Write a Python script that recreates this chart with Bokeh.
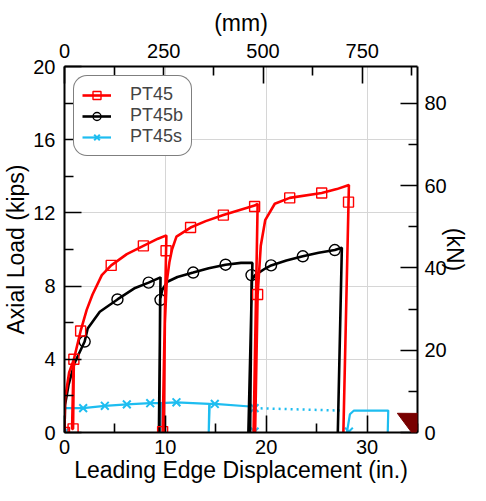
import math
from bokeh.plotting import figure
from bokeh.models import (LinearAxis, Range1d, FixedTicker, Legend, LegendItem,
                          PolyAnnotation)
from bokeh.embed import file_html
from bokeh.resources import INLINE

# ---------------- data (inches, kips) ----------------
pt45_x = [0, 0.06, 0.46, 0.9, 0.75, 0.85, 0.93, 1.6, 2.2, 2.78, 3.7, 4.63, 6.18, 7.82, 9.27, 10.1,
          9.73, 9.85, 9.95, 10.13, 10.4, 10.66, 11.1, 12.5, 14.0, 15.75, 17.3, 18.85, 19.15,
          18.75, 18.9, 19.15, 19.46, 19.9, 20.85, 22.33, 25.5, 27.0, 28.2, 27.65]
pt45_y = [0, 1.86, 3.28, 3.95, 0.2, 0.2, 4.0, 5.55, 6.7, 7.54, 8.6, 9.13, 9.75, 10.2, 10.59, 10.77,
          0.0, 0.0, 5.94, 8.2, 9.3, 10.0, 10.7, 11.2, 11.55, 11.88, 12.15, 12.4, 12.5,
          0.0, 0.0, 7.54, 10.2, 11.6, 12.5, 12.82, 13.09, 13.3, 13.53, 0.0]
pt45_mx = [0, 0.85, 0.93, 1.6, 4.63, 7.82, 10.07, 9.73, 12.5, 15.75, 18.85, 19.15, 22.33, 25.5, 28.16]
pt45_my = [0, 0.2, 4.0, 5.55, 9.13, 10.2, 9.93, 0.05, 11.2, 11.88, 12.35, 7.54, 12.82, 13.09, 12.59]

pt45b_x = [0, 0.05, 0.4, 1.0, 2.0, 2.3, 3.5, 5.25, 7.0, 8.34, 9.52, 9.36,
           9.4, 9.48, 9.7, 10.2, 11.2, 12.76, 14.3, 15.97, 17.5, 18.63, 18.23,
           18.4, 18.55, 18.9, 19.9, 20.48, 22.0, 23.63, 25.2, 26.8, 27.5, 27.1]
pt45b_y = [0, 1.5, 2.6, 3.8, 4.97, 5.68, 6.6, 7.27, 7.9, 8.19, 8.48, 0.0,
           0.0, 7.27, 7.8, 8.24, 8.5, 8.74, 8.98, 9.17, 9.27, 9.27, 0.0,
           0.0, 8.3, 8.6, 8.96, 9.13, 9.4, 9.63, 9.82, 9.97, 10.1, 0.0]
pt45b_mx = [2.0, 5.25, 8.34, 9.52, 12.76, 15.97, 18.54, 20.48, 23.63, 26.8]
pt45b_my = [4.97, 7.27, 8.19, 7.25, 8.74, 9.17, 8.6, 9.13, 9.63, 9.97]

nan = float("nan")
pt45s_x = [0, 0.03, 1.85, 4.0, 6.18, 8.5, 9.5, 9.5, 9.55, 11.1, 14.35, 14.3, 14.4, 14.9, 18.4, 18.4,
           nan, 18.85, 18.85, nan, 28.0, 28.3, 28.7, 32.1, 32.05]
pt45s_y = [0, 1.33, 1.33, 1.46, 1.54, 1.6, 1.6, 0.0, 1.6, 1.65, 1.56, 0.0, 1.56, 1.56, 1.42, 0.0,
           nan, 0.0, 1.33, nan, 0.0, 1.0, 1.2, 1.2, 0.0]
pt45s_dot_x = [18.85, 27.3]
pt45s_dot_y = [1.33, 1.2]
pt45s_mx = [0, 1.85, 4.0, 6.18, 8.5, 11.1, 14.9, 18.85, 18.85, 28.2]
pt45s_my = [0, 1.33, 1.46, 1.54, 1.6, 1.65, 1.56, 1.33, 0.05, 0.05]

series_names = ["PT45", "PT45b", "PT45s"]

# ticks
x_major = [0, 10, 20, 30]
x_minor = [5, 15, 25, 35]
y_major = [0, 4, 8, 12, 16, 20]
y_minor = [2, 6, 10, 14, 18]
mm_major = [0, 250, 500, 750]
mm_minor = [125, 375, 625, 875]
kn_major = [0, 20, 40, 60, 80]
kn_minor = [10, 30, 50, 70]
x_grid = [10, 20, 30]
y_grid = [4, 8, 12, 16]

X_MAX = 35.0
Y_MAX = 20.0
MM_PER_IN = 25.4
KN_PER_KIP = 4.448

# pointer arrow (tip in data units, the rest in pixels)
arrow_tip = (33.0, 1.05)
arrow_dir_px = (61.0, 31.0)   # direction from tip towards tail on screen (right, down)
arrow_len_px = 95.0
arrow_head_px = 25.0
arrow_shaft_px = 8.0

FONT = "Liberation Sans"
RED = "#ff0000"
BLACK = "#000000"
CYAN = "#1ebdf0"
MAROON = "#780000"

W, H = 470, 485
BL, BT, BR, BB = 57, 66, 44, 50
EST_FRAME_W = 350.0
EST_FRAME_H = 365.0

p = figure(width=W, height=H, x_range=Range1d(0, X_MAX), y_range=Range1d(0, Y_MAX),
           output_backend="svg", toolbar_location=None,
           min_border_left=BL, min_border_right=BR, min_border_top=BT, min_border_bottom=BB)
p.extra_x_ranges = {"mm": Range1d(0, X_MAX * MM_PER_IN)}
p.extra_y_ranges = {"kn": Range1d(0, Y_MAX * KN_PER_KIP)}
p.outline_line_color = None
p.background_fill_color = "white"
p.border_fill_color = "white"

bottom_ax = p.below[0]
left_ax = p.left[0]
top_ax = LinearAxis(x_range_name="mm")
right_ax = LinearAxis(y_range_name="kn")
p.add_layout(top_ax, "above")
p.add_layout(right_ax, "right")


def style(ax, major, minor, label=None, standoff=9, title_standoff=1):
    ax.ticker = FixedTicker(ticks=major, minor_ticks=minor)
    ax.major_tick_in = 17
    ax.major_tick_out = 0
    ax.minor_tick_in = 9
    ax.minor_tick_out = 0
    ax.axis_line_width = 2
    ax.axis_line_color = "black"
    ax.major_tick_line_width = 1.6
    ax.minor_tick_line_width = 1.6
    ax.major_tick_line_color = "black"
    ax.minor_tick_line_color = "black"
    ax.major_label_text_font = FONT
    ax.major_label_text_font_size = "20px"
    ax.major_label_text_color = "black"
    ax.major_label_standoff = standoff
    if label:
        ax.axis_label = label
        ax.axis_label_text_font = FONT
        ax.axis_label_text_font_size = "23px"
        ax.axis_label_text_font_style = "normal"
        ax.axis_label_text_color = "black"
        ax.axis_label_standoff = title_standoff


style(bottom_ax, x_major, x_minor, "Leading Edge Displacement (in.)", standoff=7, title_standoff=0)
style(left_ax, y_major, y_minor, "Axial Load (kips)", standoff=9, title_standoff=1)
style(top_ax, mm_major, mm_minor, "(mm)", standoff=9, title_standoff=5)
style(right_ax, kn_major, kn_minor, "(kN)", standoff=7, title_standoff=-8)

p.xgrid.ticker = FixedTicker(ticks=x_grid)
p.ygrid.ticker = FixedTicker(ticks=y_grid)
p.grid.grid_line_color = "#d6d6d6"
p.grid.grid_line_width = 1

# series
r_c = p.line(pt45s_x, pt45s_y, line_color=CYAN, line_width=2.2)
r_cd = p.line(pt45s_dot_x, pt45s_dot_y, line_color=CYAN, line_width=2.5, line_dash="2 4")
m_c = p.scatter(pt45s_mx, pt45s_my, marker="x", size=11, line_color=CYAN, line_width=2)

r_b = p.line(pt45b_x, pt45b_y, line_color=BLACK, line_width=2.6)
m_b = p.scatter(pt45b_mx, pt45b_my, marker="circle", size=11, fill_color=None,
                line_color=BLACK, line_width=1.4)

r_r = p.line(pt45_x, pt45_y, line_color=RED, line_width=2.6)
m_r = p.scatter(pt45_mx, pt45_my, marker="square", size=10, fill_color=None,
                line_color=RED, line_width=1.4)

legend = Legend(items=[LegendItem(label=series_names[0], renderers=[r_r, m_r]),
                       LegendItem(label=series_names[1], renderers=[r_b, m_b]),
                       LegendItem(label=series_names[2], renderers=[r_c, m_c])],
                location="top_left")
legend.margin = 9
legend.padding = 8
legend.spacing = 0
legend.glyph_width = 29
legend.glyph_height = 20
legend.label_standoff = 19
legend.label_text_font = FONT
legend.label_text_font_size = "18px"
legend.border_line_color = "black"
legend.border_line_width = 1.2
legend.background_fill_color = "white"
legend.background_fill_alpha = 1.0
if "border_radius" in Legend.properties():
    legend.border_radius = 14
p.add_layout(legend)

sx = EST_FRAME_W / X_MAX
sy = EST_FRAME_H / Y_MAX

# arrow polygon: geometry built in pixels, converted to data units
dl = math.hypot(*arrow_dir_px)
ux, uy = arrow_dir_px[0] / dl, arrow_dir_px[1] / dl      # screen direction tip->tail
nx, ny = -uy, ux
bx, by = ux * arrow_head_px, uy * arrow_head_px
ex, ey = ux * arrow_len_px, uy * arrow_len_px
hw, sw = arrow_head_px / 2.0, arrow_shaft_px / 2.0
pts = [(0.0, 0.0),
       (bx + nx * hw, by + ny * hw),
       (bx + nx * sw, by + ny * sw),
       (ex + nx * sw, ey + ny * sw),
       (ex - nx * sw, ey - ny * sw),
       (bx - nx * sw, by - ny * sw),
       (bx - nx * hw, by - ny * hw)]
poly_x = [arrow_tip[0] + px_ / sx for px_, py_ in pts]
poly_y = [arrow_tip[1] - py_ / sy for px_, py_ in pts]
p.add_layout(PolyAnnotation(xs=poly_x, ys=poly_y, fill_color=MAROON, fill_alpha=1.0,
                            line_color=MAROON, line_alpha=1.0, line_width=1))

open("out.html", "w").write(file_html(p, INLINE))
